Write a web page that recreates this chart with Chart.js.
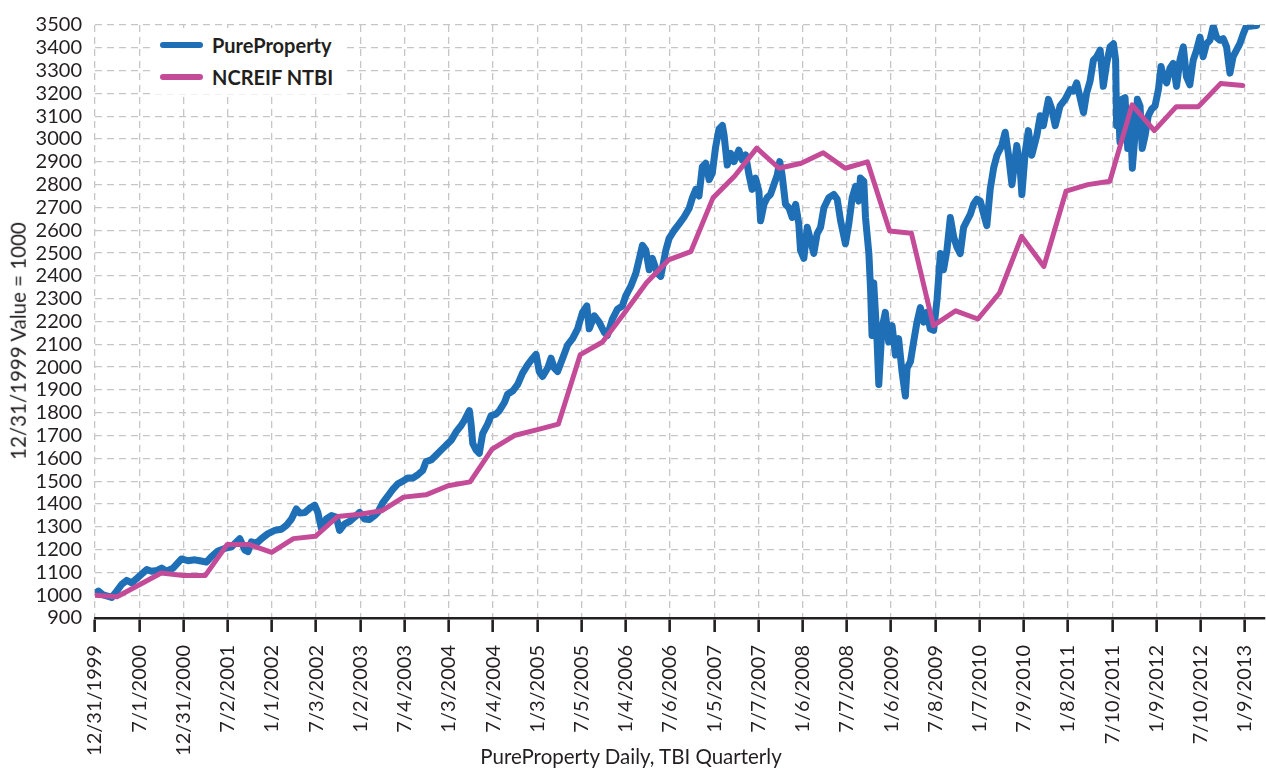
<!DOCTYPE html>
<html>
<head>
<meta charset="utf-8">
<title>PureProperty vs NCREIF NTBI</title>
<script src="https://cdn.jsdelivr.net/npm/chart.js@4.4.1/dist/chart.umd.min.js"></script>
<style>
  body { margin: 0; background: #fff; }
  #wrap { position: relative; width: 1266px; height: 771px; font-family: Lato, "Open Sans", sans-serif; color: #231f20; }
  #chart { position: absolute; left: 0; top: 0; }
  .axis-title { position: absolute; font-size: 20.5px; white-space: nowrap; line-height: 1; }
  #yTitle { left: 18px; top: 341px; transform: translate(-50%, -50%) rotate(-90deg); }
  #xTitle { left: 631px; top: 746px; transform: translateX(-50%); }
  #legend { position: absolute; left: 150px; top: 28px; width: 196px; height: 66px; background: #fff; }
  .item { position: absolute; left: 10px; height: 24px; display: flex; align-items: center; font-weight: bold; font-size: 20px; }
  .swatch { width: 43px; height: 6px; border-radius: 3px; margin-right: 9px; }
</style>
</head>
<body>
<div id="wrap">
  <canvas id="chart" width="1266" height="771"></canvas>
  <div id="yTitle" class="axis-title">12/31/1999 Value = 1000</div>
  <div id="xTitle" class="axis-title">PureProperty Daily, TBI Quarterly</div>
  <div id="legend">
    <div class="item" style="top:5px"><span class="swatch" style="background:#1f6fb7"></span>PureProperty</div>
    <div class="item" style="top:37px"><span class="swatch" style="background:#c44b97"></span>NCREIF NTBI</div>
  </div>
</div>
<script>
// x axis tick labels (dates)
const tickLabels = ['12/31/1999', '7/1/2000', '12/31/2000', '7/2/2001', '1/1/2002', '7/3/2002',
  '1/2/2003', '7/4/2003', '1/3/2004', '7/4/2004', '1/3/2005', '7/5/2005', '1/4/2006', '7/6/2006',
  '1/5/2007', '7/7/2007', '1/6/2008', '7/7/2008', '1/6/2009', '7/8/2009', '1/7/2010', '7/9/2010',
  '1/8/2011', '7/10/2011', '1/9/2012', '7/10/2012', '1/9/2013'];

// PureProperty daily index (days since 12/31/1999)
const pureDays = [0, 14, 34, 69, 90, 110, 131, 152, 179, 214, 234, 255, 276, 296, 323, 358, 385, 413, 434, 461,
  482, 509, 537, 565, 599, 620, 633, 647, 668, 689, 716, 744, 771, 792, 813, 833, 847, 868, 888, 909,
  922, 937, 957, 978, 998, 1012, 1033, 1053, 1074, 1095, 1115, 1136, 1157, 1170, 1191, 1212, 1232, 1253, 1274, 1294,
  1315, 1336, 1356, 1370, 1391, 1412, 1432, 1453, 1474, 1494, 1515, 1528, 1549, 1556, 1563, 1577, 1590, 1604, 1625, 1639,
  1659, 1673, 1694, 1707, 1728, 1749, 1769, 1790, 1811, 1825, 1838, 1852, 1873, 1887, 1900, 1914, 1935, 1955, 1976, 1997,
  2017, 2035, 2045, 2066, 2086, 2107, 2120, 2141, 2162, 2182, 2196, 2217, 2238, 2251, 2265, 2279, 2293, 2306, 2327, 2341,
  2362, 2375, 2396, 2417, 2437, 2458, 2472, 2486, 2499, 2513, 2527, 2541, 2554, 2568, 2582, 2596, 2603, 2616, 2630, 2644,
  2664, 2678, 2692, 2706, 2719, 2733, 2747, 2754, 2768, 2781, 2795, 2809, 2823, 2833, 2843, 2857, 2871, 2885, 2899, 2912,
  2919, 2933, 2947, 2961, 2974, 2988, 3002, 3016, 3036, 3057, 3071, 3085, 3105, 3119, 3133, 3147, 3160, 3167, 3181, 3188,
  3202, 3209, 3215, 3222, 3229, 3236, 3243, 3256, 3270, 3284, 3298, 3312, 3325, 3339, 3353, 3360, 3374, 3387, 3401, 3415,
  3429, 3442, 3456, 3470, 3484, 3498, 3511, 3525, 3539, 3553, 3566, 3580, 3594, 3608, 3622, 3635, 3649, 3663, 3677, 3690,
  3704, 3718, 3732, 3752, 3766, 3780, 3794, 3814, 3828, 3835, 3849, 3862, 3876, 3897, 3911, 3924, 3945, 3959, 3973, 3993,
  4014, 4035, 4048, 4062, 4076, 4090, 4103, 4117, 4131, 4145, 4159, 4172, 4186, 4200, 4214, 4223, 4227, 4234, 4241, 4248,
  4262, 4273, 4283, 4292, 4303, 4313, 4324, 4333, 4345, 4358, 4372, 4386, 4400, 4411, 4420, 4434, 4448, 4461, 4475, 4489,
  4503, 4516, 4530, 4544, 4558, 4572, 4585, 4599, 4613, 4627, 4640, 4654, 4668, 4682, 4696, 4709, 4723, 4737, 4751, 4764,
  4785, 4806];
const pureValues = [1007, 1018, 1001, 990, 1018, 1047, 1065, 1054, 1079, 1112, 1105, 1108, 1119, 1105, 1119, 1159, 1151, 1155, 1151, 1145,
  1169, 1194, 1205, 1212, 1248, 1198, 1191, 1234, 1227, 1248, 1270, 1284, 1289, 1306, 1334, 1378, 1360, 1362, 1381, 1395,
  1363, 1291, 1334, 1349, 1342, 1284, 1313, 1323, 1342, 1363, 1334, 1332, 1349, 1363, 1406, 1435, 1464, 1488, 1500, 1514,
  1514, 1528, 1547, 1586, 1593, 1615, 1636, 1658, 1679, 1716, 1744, 1766, 1809, 1751, 1665, 1636, 1622, 1708, 1751, 1787,
  1794, 1809, 1845, 1881, 1895, 1924, 1974, 2010, 2039, 2056, 1981, 1959, 1996, 2039, 1996, 1981, 2039, 2096, 2125, 2168,
  2240, 2268, 2168, 2225, 2197, 2153, 2139, 2211, 2254, 2268, 2312, 2355, 2412, 2470, 2534, 2513, 2427, 2477, 2412, 2398,
  2513, 2563, 2599, 2628, 2657, 2695, 2743, 2779, 2750, 2879, 2894, 2822, 2850, 2966, 3044, 3059, 3016, 2886, 2937, 2901,
  2951, 2908, 2930, 2843, 2779, 2829, 2771, 2642, 2714, 2743, 2757, 2800, 2843, 2901, 2843, 2714, 2699, 2656, 2714, 2628,
  2513, 2477, 2613, 2556, 2498, 2585, 2613, 2699, 2743, 2757, 2736, 2642, 2541, 2628, 2743, 2793, 2728, 2829, 2815, 2656,
  2498, 2340, 2139, 2369, 2240, 2110, 1924, 2168, 2240, 2110, 2182, 2053, 2125, 1981, 1873, 1996, 2024, 2110, 2197, 2261,
  2197, 2240, 2168, 2161, 2297, 2498, 2427, 2513, 2656, 2570, 2527, 2498, 2613, 2642, 2671, 2714, 2736, 2728, 2671, 2620,
  2780, 2872, 2929, 2972, 3030, 2929, 2800, 2972, 2872, 2757, 2944, 3037, 2929, 3016, 3102, 3059, 3174, 3131, 3059, 3145,
  3174, 3217, 3210, 3246, 3181, 3116, 3202, 3253, 3346, 3361, 3390, 3231, 3332, 3404, 3418, 3346, 3059, 3145, 2987, 3174,
  3181, 2958, 3131, 2872, 3016, 3174, 3145, 2958, 3016, 3102, 3131, 3145, 3217, 3318, 3274, 3246, 3311, 3332, 3231, 3346,
  3404, 3274, 3238, 3346, 3390, 3447, 3361, 3418, 3433, 3495, 3447, 3433, 3440, 3404, 3289, 3361, 3390, 3418, 3461, 3495,
  3495, 3498];

// NCREIF NTBI quarterly index, 12/31/1999 .. 12/31/2012
const ncreifValues = [1000, 993, 1045, 1097, 1086, 1086, 1222, 1222, 1188, 1248,
  1258, 1345, 1355, 1370, 1430, 1440, 1480, 1497, 1640, 1700,
  1725, 1750, 2055, 2110, 2240, 2370, 2470, 2506, 2742, 2838,
  2960, 2872, 2894, 2940, 2872, 2900, 2597, 2587, 2182, 2247,
  2211, 2326, 2573, 2441, 2772, 2800, 2815, 3150, 3037, 3142,
  3142, 3243, 3235];

const DAY = 86400000;
const start = Date.UTC(1999, 11, 31);
function toDays(label) {
  const [m, d, y] = label.split('/').map(Number);
  return Math.round((Date.UTC(y, m - 1, d) - start) / DAY);
}
const tickDays = tickLabels.map(toDays);
const xMax = 4841;

const pureData = pureDays.map((d, i) => ({ x: d, y: pureValues[i] }));
// quarter ends: Date.UTC(2000, 3q, 0) is the last day of each quarter
const ncreifData = ncreifValues.map((v, q) => ({ x: Math.round((Date.UTC(2000, 3 * q, 0) - start) / DAY), y: v }));

const ink = '#231f20';
const gridColor = '#c6c6c6';
const tickFont = { family: 'Lato', size: 20 };

new Chart(document.getElementById('chart'), {
  type: 'line',
  data: {
    datasets: [
      {
        label: 'NCREIF NTBI',
        data: ncreifData,
        borderColor: '#c44b97',
        borderWidth: 5,
        pointRadius: 0,
        borderJoinStyle: 'round',
        borderCapStyle: 'round',
        order: 0
      },
      {
        label: 'PureProperty',
        data: pureData,
        borderColor: '#1f6fb7',
        borderWidth: 7,
        pointRadius: 0,
        borderJoinStyle: 'round',
        borderCapStyle: 'round',
        order: 1
      }
    ]
  },
  options: {
    responsive: false,
    animation: false,
    devicePixelRatio: 1,
    layout: { padding: { top: 14, right: 1, left: 0, bottom: 0 } },
    plugins: { legend: { display: false }, tooltip: { enabled: false } },
    scales: {
      x: {
        type: 'linear',
        min: 0,
        max: xMax,
        afterBuildTicks: (scale) => { scale.ticks = tickDays.map(v => ({ value: v })); },
        afterFit: (scale) => { scale.height = 153; scale.paddingLeft = 0; scale.paddingRight = 0; },
        grid: {
          color: gridColor,
          lineWidth: 1.3,
          drawTicks: true,
          tickLength: 14,
          tickColor: ink,
          tickWidth: 2.6
        },
        border: { display: true, color: ink, width: 2.6, dash: [7, 5] },
        ticks: {
          autoSkip: false,
          minRotation: 90,
          maxRotation: 90,
          padding: 13,
          color: ink,
          font: tickFont,
          callback: (value, index) => tickLabels[index]
        }
      },
      y: {
        min: 900,
        max: 3500,
        afterFit: (scale) => { scale.width = 95; },
        grid: { color: gridColor, lineWidth: 1.3, drawTicks: false },
        border: { display: false, dash: [7, 5] },
        ticks: { stepSize: 100, autoSkip: false, padding: 13, color: ink, font: tickFont, callback: (value) => String(value) }
      }
    }
  }
});
</script>
</body>
</html>
